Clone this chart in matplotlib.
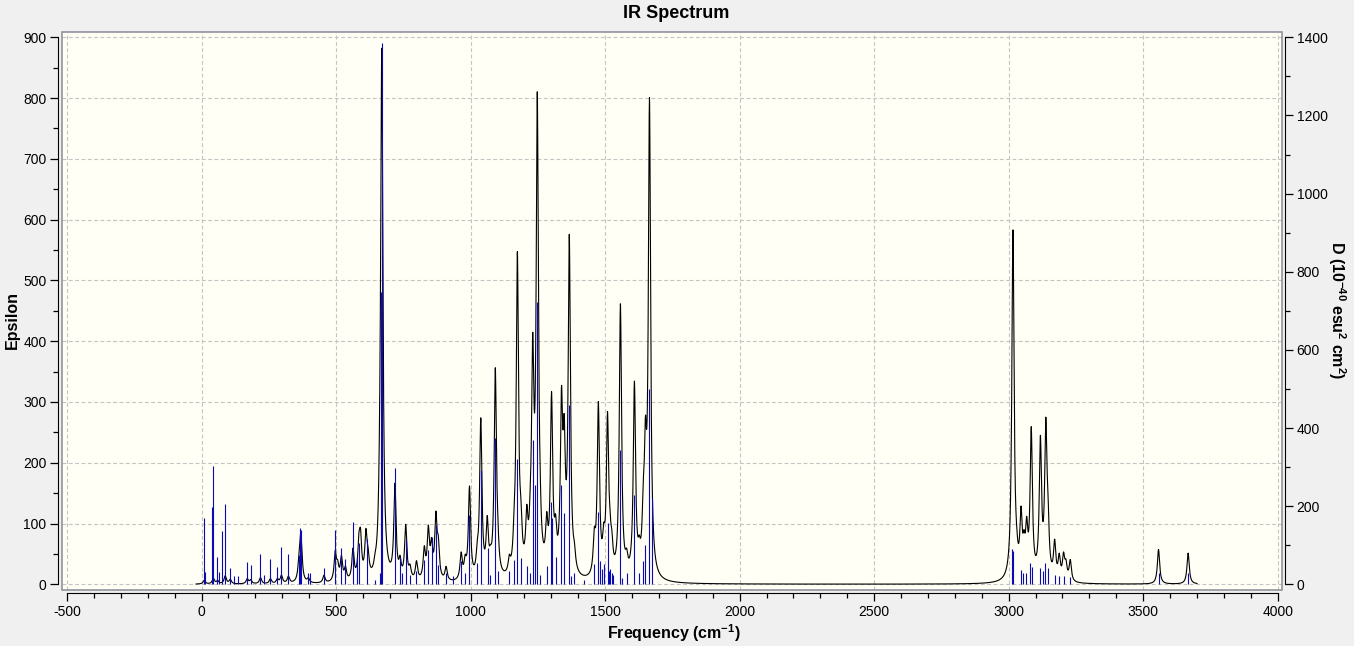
import numpy as np
import matplotlib
matplotlib.use("Agg")
from matplotlib import pyplot as plt
from matplotlib.ticker import MultipleLocator
from matplotlib.patches import Rectangle

plt.rcParams["font.family"] = ["Liberation Sans", "DejaVu Sans"]
plt.rcParams["axes.unicode_minus"] = False
plt.rcParams["mathtext.fontset"] = "custom"
plt.rcParams["mathtext.rm"] = "Liberation Sans:bold"
plt.rcParams["mathtext.bf"] = "Liberation Sans:bold"
plt.rcParams["mathtext.default"] = "bf"

# broadened spectrum: band centres (cm-1) and epsilon peak heights
band_freq = [10, 44, 60, 88, 107, 170, 183, 219, 256, 282, 297, 323, 362, 368, 371,
             397, 455, 497, 506, 520, 535, 563, 585, 591, 611, 619, 645, 663, 670,
             719, 738, 759, 775, 799, 828, 843, 855, 871, 880, 909, 965, 980, 996,
             1025, 1038, 1062, 1074, 1092, 1101, 1144, 1162, 1174, 1187, 1209, 1222,
             1231, 1248, 1258, 1283, 1301, 1316, 1338, 1348, 1367, 1386, 1460, 1475,
             1495, 1509, 1518, 1525, 1557, 1580, 1609, 1627, 1642, 1650, 1665,
             3016, 3030, 3046, 3057, 3067, 3084, 3118, 3138, 3146, 3171, 3188, 3204,
             3213, 3229, 3557, 3667]
band_eps = [6, 9, 5, 13, 7, 8, 6, 10, 8, 7, 13, 11, 20, 50, 32,
            7, 12, 46, 22, 38, 20, 50, 50, 60, 70, 28, 10, 45, 862,
            152, 26, 88, 18, 30, 48, 78, 50, 98, 50, 22, 42, 26, 150,
            28, 258, 85, 18, 338, 28, 22, 36, 522, 55, 80, 36,
            330, 765, 28, 70, 285, 55, 260, 182, 548, 22, 56, 280,
            46, 252, 36, 36, 448, 22, 315, 26, 75, 170, 775,
            575, 15, 95, 40, 70, 240, 220, 235, 75, 58, 36, 38,
            24, 34, 57, 51]

# calculated transitions: frequency (cm-1) and dipole strength D
stick_freq = [10, 12, 40, 44, 59, 66, 77, 88, 107, 122, 136, 170, 183, 219, 233, 256,
              282, 297, 323, 362, 367, 371, 397, 405, 455, 497, 520, 534, 564, 579,
              585, 614, 645, 663, 667, 671, 719, 738, 747, 759, 775, 799, 828, 843,
              855, 871, 880, 909, 936, 965, 980, 996, 1025, 1038, 1064, 1074, 1091,
              1101, 1144, 1162, 1174, 1187, 1209, 1222, 1231, 1240, 1248, 1258, 1283,
              1299, 1304, 1316, 1338, 1348, 1367, 1372, 1386, 1420, 1460, 1475, 1480,
              1490, 1495, 1509, 1515, 1520, 1525, 1528, 1557, 1562, 1580, 1609, 1627,
              1642, 1650, 1665, 1673, 3014, 3018, 3047, 3055, 3064, 3078, 3085, 3118,
              3127, 3136, 3147, 3171, 3188, 3206, 3229, 3557, 3667]
stick_d = [169, 32, 199, 303, 69, 31, 136, 205, 42, 21, 21, 56, 50, 78, 25, 65,
           44, 95, 78, 75, 143, 140, 28, 28, 42, 139, 92, 64, 160, 70,
           106, 115, 11, 30, 747, 1386, 297, 70, 30, 114, 25, 35, 62, 87,
           121, 152, 50, 30, 20, 59, 30, 177, 54, 292, 93, 25, 374,
           34, 34, 62, 320, 68, 48, 30, 369, 254, 723, 25, 48,
           211, 170, 70, 254, 182, 459, 20, 30, 10, 53, 186, 60,
           40, 53, 158, 35, 40, 30, 25, 344, 15, 30, 229, 30,
           60, 101, 501, 221, 90, 85, 36, 28, 30, 55, 45, 42,
           35, 55, 42, 25, 22, 20, 18, 30, 28]

half_width = 5.0

fig = plt.figure(figsize=(13.54, 6.46), dpi=100, facecolor="#f0f0f0")
ax = fig.add_axes([61.5 / 1354, 56 / 646, 1220.5 / 1354, 558.3 / 646])
ax.set_facecolor("#fffff5")

x = np.arange(-20, 3700.01, 0.5)
eps = np.zeros_like(x)
for f, h in zip(band_freq, band_eps):
    eps += h / (1 + ((x - f) / half_width) ** 2)
ax.plot(x, eps, color="black", lw=0.8)

ax.set_xlim(-520.4, 4016)
ax.set_ylim(-9.4, 909.2)
ax.xaxis.set_major_locator(MultipleLocator(500))
ax.xaxis.set_minor_locator(MultipleLocator(100))
ax.yaxis.set_major_locator(MultipleLocator(100))
ax.yaxis.set_minor_locator(MultipleLocator(50))
ax.set_axisbelow(True)
ax.grid(True, which="major", color="#c4c4c4", lw=0.8, ls=(0, (3.5, 2.2)))

ax2 = ax.twinx()
ax2.vlines(stick_freq, 0, stick_d, colors="#0a0ab4", lw=0.8)
ax2.set_ylim(-9.4 * 1400 / 900, 909.2 * 1400 / 900)
ax2.yaxis.set_major_locator(MultipleLocator(200))
ax2.yaxis.set_minor_locator(MultipleLocator(100))

for a in (ax, ax2):
    a.tick_params(which="major", length=5.8, width=0.9, labelsize=10, pad=2.5)
    a.tick_params(which="minor", length=3.8, width=0.9)
    for s in a.spines.values():
        s.set_visible(False)

ax.spines["left"].set_visible(True)
ax.spines["left"].set_position(("outward", 2.5))
ax.spines["left"].set_bounds(0, 900)
ax.spines["bottom"].set_visible(True)
ax.spines["bottom"].set_position(("outward", 2.2))
ax.spines["bottom"].set_bounds(-500, 4000)
ax2.spines["right"].set_visible(True)
ax2.spines["right"].set_position(("outward", 2.2))
ax2.spines["right"].set_bounds(0, 1400)

ax2.add_patch(Rectangle((0, 0), 1, 1, transform=ax2.transAxes, fill=False,
                        ec="#8a8a96", lw=1.1, clip_on=False, zorder=5))

fig.text(676.5 / 1354, 1 - 14 / 646, "IR Spectrum", ha="center", va="center",
         fontsize=13, weight="bold")
fig.text(674 / 1354, 1 - 633 / 646, "Frequency (cm$^{-1}$)", ha="center", va="center",
         fontsize=11.5, weight="bold")
fig.text(12 / 1354, 1 - 320 / 646, "Epsilon", ha="center", va="center",
         rotation=90, fontsize=11.5, weight="bold")
fig.text(1337 / 1354, 1 - 310 / 646, "D (10$^{-40}$ esu$^{2}$ cm$^{2}$)", ha="center",
         va="center", rotation=270, fontsize=11.5, weight="bold")

plt.savefig("out.png", dpi=100, facecolor=fig.get_facecolor())
